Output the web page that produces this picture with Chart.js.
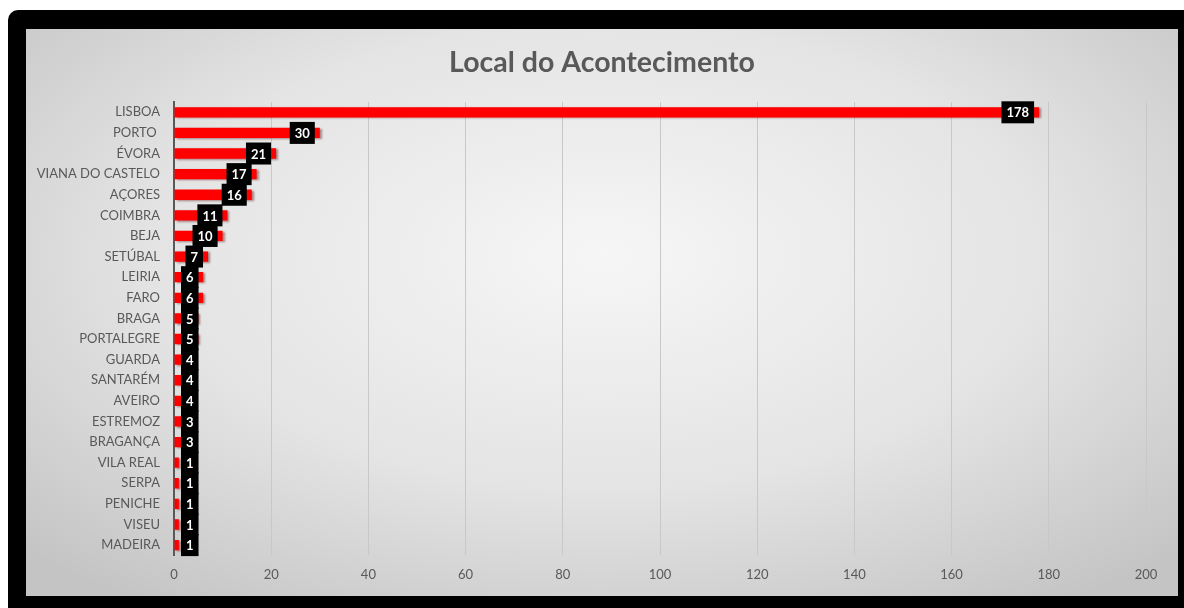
<!DOCTYPE html>
<html>
<head>
<meta charset="utf-8">
<script src="https://cdn.jsdelivr.net/npm/chart.js@4"></script>
<style>
  html, body { margin: 0; padding: 0; background: #fff; width: 1184px; height: 608px; overflow: hidden; }
  #frame { position: absolute; left: 8px; top: 10px; width: 1190px; height: 610px; background: #000; border-radius: 10px; }
  #panel { position: absolute; left: 26px; top: 29px; width: 1152px; height: 567px;
    background: radial-gradient(ellipse 70% 75% at 50% 40%, #f6f6f6 0%, #e4e4e4 55%, #c4c4c4 100%); }
  canvas { display: block; }
</style>
</head>
<body>
<div id="frame"></div>
<div id="panel"><canvas id="chart" width="1152" height="567"></canvas></div>
<script>
// places, in the order they appear top to bottom
const places = ['LISBOA', 'PORTO ', 'ÉVORA', 'VIANA DO CASTELO', 'AÇORES', 'COIMBRA', 'BEJA', 'SETÚBAL',
  'LEIRIA', 'FARO', 'BRAGA', 'PORTALEGRE', 'GUARDA', 'SANTARÉM', 'AVEIRO', 'ESTREMOZ', 'BRAGANÇA',
  'VILA REAL', 'SERPA', 'PENICHE', 'VISEU', 'MADEIRA'];
const counts = [178, 30, 21, 17, 16, 11, 10, 7, 6, 6, 5, 5, 4, 4, 4, 3, 3, 1, 1, 1, 1, 1];
const xTicks = [0, 20, 40, 60, 80, 100, 120, 140, 160, 180, 200];
const chartTitle = 'Local do Acontecimento';

const FONT = 'Lato, "Open Sans", sans-serif';

// title centred on the whole panel, not the padded box
const centredTitle = {
  id: 'centredTitle',
  afterDraw(chart) {
    const ctx = chart.ctx;
    ctx.save();
    ctx.font = 'bold 28.5px ' + FONT;
    ctx.fillStyle = '#595959';
    ctx.textAlign = 'center';
    ctx.textBaseline = 'middle';
    ctx.fillText(chartTitle, chart.width / 2, 34);
    ctx.restore();
  }
};

// black value boxes at the inside end of each bar
const valueBoxes = {
  id: 'valueBoxes',
  beforeDatasetsDraw(chart) {
    const ctx = chart.ctx;
    ctx.save();
    ctx.shadowColor = 'rgba(90,0,0,0.45)';
    ctx.shadowOffsetX = 2;
    ctx.shadowOffsetY = 1;
    ctx.shadowBlur = 2;
  },
  afterDatasetsDraw(chart) {
    const ctx = chart.ctx;
    ctx.restore();
    const meta = chart.getDatasetMeta(0);
    const x0 = chart.scales.x.getPixelForValue(0);
    ctx.save();
    ctx.font = 'bold 13px ' + FONT;
    ctx.textAlign = 'center';
    ctx.textBaseline = 'middle';
    meta.data.forEach((bar, i) => {
      const txt = String(counts[i]);
      const w = ctx.measureText(txt).width + 10;
      const h = 22;
      let right = bar.x - 5;
      let left = right - w;
      if (left < x0 + 7) { left = x0 + 7; right = left + w; }
      ctx.fillStyle = '#000';
      ctx.fillRect(left, bar.y - h / 2, w, h);
      ctx.fillStyle = '#fff';
      ctx.fillText(txt, left + w / 2, bar.y + 1);
    });
    ctx.restore();
  }
};

new Chart(document.getElementById('chart'), {
  type: 'bar',
  data: {
    labels: places,
    datasets: [{
      data: counts,
      backgroundColor: '#ff0000',
      borderWidth: 0,
      barPercentage: 1,
      categoryPercentage: 0.5
    }]
  },
  options: {
    indexAxis: 'y',
    responsive: false,
    animation: false,
    devicePixelRatio: 1,
    layout: { padding: { left: 0, right: 32, top: 73, bottom: 1 } },
    plugins: {
      legend: { display: false },
      tooltip: { enabled: false },
      title: { display: false }
    },
    scales: {
      x: {
        min: 0,
        max: 200,
        afterBuildTicks(scale) { scale.ticks = xTicks.map(v => ({ value: v })); },
        grid: { color: '#c8c8c8', lineWidth: 1, drawTicks: false },
        border: { display: false },
        ticks: { color: '#595959', font: { family: FONT, size: 13 }, padding: 12 }
      },
      y: {
        afterFit(scale) { scale.width = 148; },
        grid: { display: false, drawTicks: false },
        border: { display: true, color: '#595959', width: 2 },
        ticks: { color: '#595959', font: { family: FONT, size: 13 }, padding: 14 }
      }
    }
  },
  plugins: [valueBoxes, centredTitle]
});
</script>
</body>
</html>
